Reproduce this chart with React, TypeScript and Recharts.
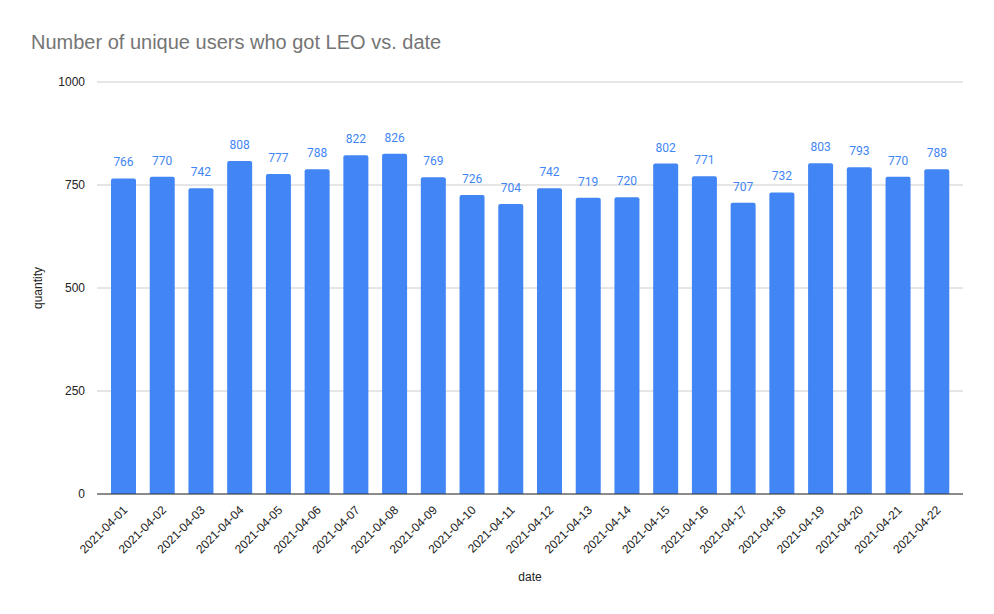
import React from "react";
import { BarChart, Bar, XAxis, YAxis, CartesianGrid, LabelList } from "recharts";

const dates = [
  "2021-04-01", "2021-04-02", "2021-04-03", "2021-04-04", "2021-04-05", "2021-04-06",
  "2021-04-07", "2021-04-08", "2021-04-09", "2021-04-10", "2021-04-11", "2021-04-12",
  "2021-04-13", "2021-04-14", "2021-04-15", "2021-04-16", "2021-04-17", "2021-04-18",
  "2021-04-19", "2021-04-20", "2021-04-21", "2021-04-22",
];
const quantities = [766, 770, 742, 808, 777, 788, 822, 826, 769, 726, 704, 742, 719, 720, 802, 771, 707, 732, 803, 793, 770, 788];
const yTicks = [0, 250, 500, 750, 1000];

const data = dates.map((d, i) => ({ date: d, quantity: quantities[i] }));

const AXFONT = "'Liberation Sans', Arial, sans-serif";
const LBLFONT = "Roboto, 'Liberation Sans', Arial, sans-serif";

const XTick = (props: any) => {
  const { x, y, payload } = props;
  return (
    <g transform={`translate(${x + 2},${y + 6})`}>
      <text
        x={0}
        y={0}
        dy={4}
        textAnchor="end"
        transform="rotate(-45)"
        fontSize={12}
        fill="#222"
        fontFamily={AXFONT}
      >
        {payload.value}
      </text>
    </g>
  );
};

export default function App() {
  return (
    <div style={{ position: "absolute", left: 0, top: 0, width: 994, height: 614, background: "#fff" }}>
      <div
        style={{
          position: "absolute",
          left: 31,
          top: 31,
          fontFamily: AXFONT,
          fontSize: 20,
          color: "#757575",
          whiteSpace: "nowrap",
        }}
      >
        Number of unique users who got LEO vs. date
      </div>
      <BarChart
        width={994}
        height={614}
        data={data}
        margin={{ top: 82, right: 31, bottom: 0, left: 40 }}
      >
        <CartesianGrid vertical={false} stroke="#cccccc" />
        <XAxis
          dataKey="date"
          interval={0}
          tick={<XTick />}
          tickLine={false}
          axisLine={{ stroke: "#333333" }}
          height={120}
          padding={{ left: 7, right: 7 }}
          label={{ value: "date", position: "insideBottom", offset: 33, fontSize: 12, fill: "#222", fontFamily: AXFONT }}
        />
        <YAxis
          domain={[0, 1000]}
          ticks={yTicks}
          tickLine={false}
          axisLine={false}
          width={57}
          tick={{ fontSize: 12, fill: "#222", fontFamily: AXFONT }}
          tickMargin={6}
          label={{ value: "quantity", angle: -90, position: "insideLeft", offset: -2, fontSize: 12, fill: "#222", fontFamily: AXFONT, style: { textAnchor: "middle" } }}
        />
        <Bar dataKey="quantity" fill="#4285f4" barSize={25} radius={[2, 2, 0, 0]} isAnimationActive={false}>
          <LabelList dataKey="quantity" position="top" offset={12} fontSize={12} fill="#4285f4" fontFamily={LBLFONT} />
        </Bar>
      </BarChart>
    </div>
  );
}
